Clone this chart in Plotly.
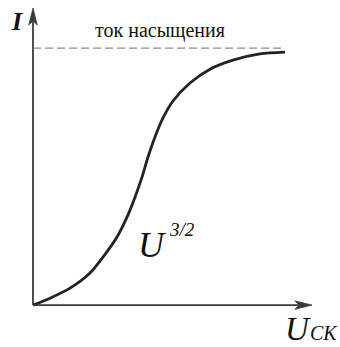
import plotly.graph_objects as go

# Anode characteristic of a vacuum tube: current vs. grid-cathode voltage
u_values = [0.0, 0.68, 1.48, 2.28, 2.8, 3.36, 3.76, 4.08, 4.36, 4.6, 4.88, 5.2,
            5.6, 6.28, 7.08, 8.0, 9.08, 10.08]
i_values = [0.0, 0.027, 0.066, 0.125, 0.187, 0.265, 0.342, 0.420, 0.498, 0.576,
            0.654, 0.728, 0.794, 0.864, 0.918, 0.953, 0.977, 0.984]
i_saturation = 1.0
saturation_label = "ток насыщения"
law_label = "U"
law_power = "3/2"
x_label = "U"
x_label_sub = "СК"
y_label = "I"

# axis extents (data units)
U_MIN, U_MAX = -1.32, 12.28
I_MIN, I_MAX = -0.163, 1.187
U_ARROW, I_ARROW = 11.16, 1.156

W, H = 340, 347
px_u = (U_MAX - U_MIN) / W   # data units per pixel, horizontal
px_i = (I_MAX - I_MIN) / H   # data units per pixel, vertical

SERIF = "Liberation Serif"
AXIS_COLOR = "#3a3a3a"

fig = go.Figure()
fig.add_trace(go.Scatter(
    x=u_values, y=i_values, mode="lines",
    line=dict(color="#222222", width=2.8, shape="spline", smoothing=0.8),
    hoverinfo="skip", showlegend=False,
))

# axes
fig.add_shape(type="line", x0=0, y0=0, x1=U_ARROW - 14 * px_u, y1=0,
              line=dict(color=AXIS_COLOR, width=1.8))
fig.add_shape(type="line", x0=0, y0=0, x1=0, y1=I_ARROW - 14 * px_i,
              line=dict(color=AXIS_COLOR, width=1.8))
# arrowheads
hl, hw, notch = 17, 4.2, 4
fig.add_shape(
    type="path",
    path=(f"M {U_ARROW},0 L {U_ARROW - hl * px_u},{hw * px_i} "
          f"L {U_ARROW - (hl - notch) * px_u},0 "
          f"L {U_ARROW - hl * px_u},{-hw * px_i} Z"),
    fillcolor=AXIS_COLOR, line=dict(color=AXIS_COLOR, width=0.8))
fig.add_shape(
    type="path",
    path=(f"M 0,{I_ARROW} L {hw * px_u},{I_ARROW - hl * px_i} "
          f"L 0,{I_ARROW - (hl - notch) * px_i} "
          f"L {-hw * px_u},{I_ARROW - hl * px_i} Z"),
    fillcolor=AXIS_COLOR, line=dict(color=AXIS_COLOR, width=0.8))
# saturation level
fig.add_shape(type="line", x0=0, y0=i_saturation, x1=u_values[-1], y1=i_saturation,
              line=dict(color="#8a8a8a", width=1.2, dash="8px,4px"))


def label(x, y, text, size, yanchor="middle"):
    fig.add_annotation(x=x, y=y, xref="x", yref="y", text=text, showarrow=False,
                       xanchor="center", yanchor=yanchor,
                       font=dict(family=SERIF, size=size, color="#111111"))


label(-0.64, 1.105, f"<i><b>{y_label}</b></i>", 26)
label(5.08, i_saturation + 0.068, saturation_label, 20)
label(4.76, 0.233, f"<i>{law_label}</i>", 36)
label(5.96, 0.296, f"<i>{law_power}</i>", 19)
label(10.6, -0.093, f"<i>{x_label}</i>", 33)
label(11.64, -0.158, f"<i>{x_label_sub}</i>", 20, yanchor="bottom")

fig.update_layout(
    width=W, height=H,
    margin=dict(l=0, r=0, t=0, b=0),
    paper_bgcolor="white", plot_bgcolor="white",
    xaxis=dict(range=[U_MIN, U_MAX], visible=False, fixedrange=True),
    yaxis=dict(range=[I_MIN, I_MAX], visible=False, fixedrange=True),
    showlegend=False,
)

fig.write_html("out.html", config={"displayModeBar": False})
